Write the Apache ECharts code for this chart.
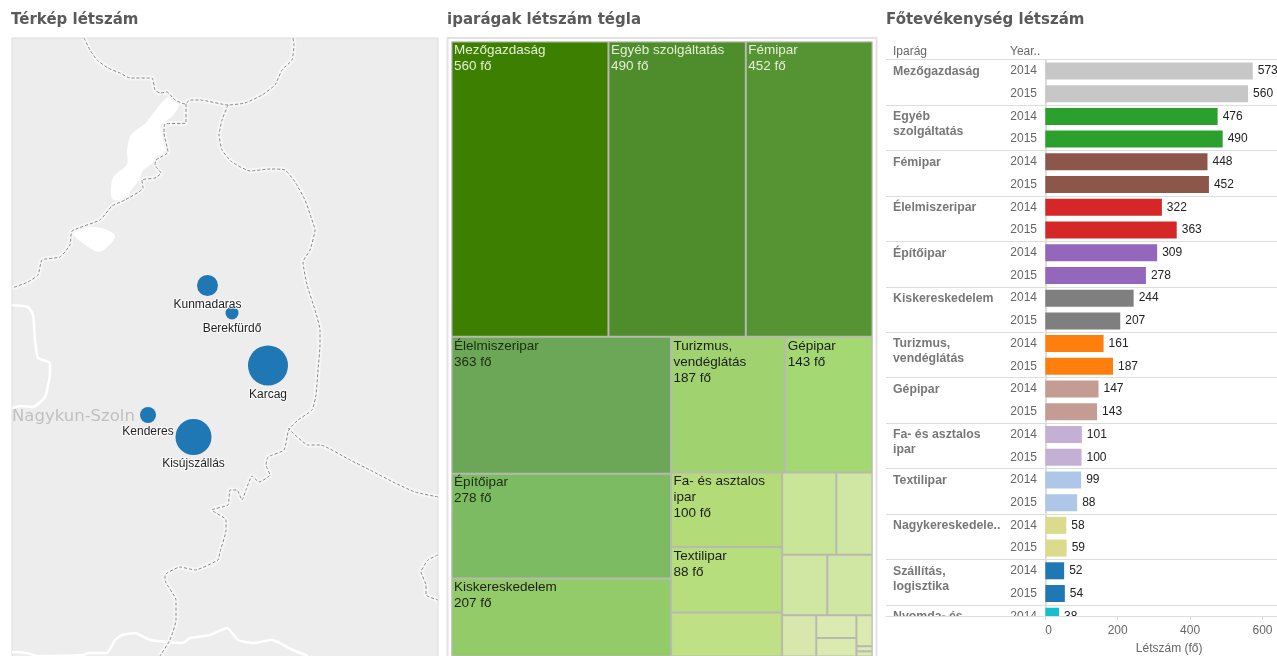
<!DOCTYPE html>
<html><head><meta charset="utf-8">
<style>html,body{margin:0;padding:0;background:#fff}#c{width:1277px;height:656px}</style>
<script src="https://cdn.jsdelivr.net/npm/echarts@6/dist/echarts.min.js"></script></head>
<body><div id="c"></div>
<script>
// ---- map panel data (axis units) ----
const cities = ['Kunmadaras','Berekfürdő','Karcag','Kenderes','Kisújszállás'];
const cityX = [207.5,232,268,148,193.5];
const cityY = [285.5,313,365.5,415,437];
const citySize = [21,13,40,16,36];
const borderA = [[84,38],[90,50],[97,60],[108,68],[120,73],[130,78],[152,78],[155,90],[160,93],[167,92],[175,100],[185,104],[190,100],[200,100],[228,105],[245,103],[262,95],[275,85],[282,70],[292,60],[294,45],[293,38]];
const borderB = [[186,104],[186,123],[165,124],[164,133],[168,152],[156,160],[155,165],[161,173],[155,178],[142,180],[143,188],[125,200],[112,206],[100,220],[72,231],[70,245],[60,257],[42,260],[38,275],[28,282],[12,288]];
const borderC = [[228,105],[222,120],[219,135],[222,150],[232,162],[250,171],[270,169],[285,170],[295,182],[305,200],[312,220],[315,230],[310,250],[303,262],[307,285],[315,310],[320,330],[320,345],[318,370],[316,395],[312,410],[298,420],[290,428],[288,432],[284,450],[268,457],[266,465],[270,475],[259,482],[252,476],[246,490],[242,500],[237,490],[230,490],[228,505],[212,510],[226,520],[226,530],[220,552],[218,560],[195,570],[180,567],[165,575],[165,580],[176,600],[176,620],[170,640],[160,656]];
const borderD = [[288,428],[308,445],[320,445],[350,460],[370,470],[395,483],[415,492],[438,497]];
const borderE = [[438,555],[428,560],[421,572],[426,585],[426,595],[438,600]];
const riverA = [[12,305],[28,307],[33,315],[35,340],[38,358],[50,363],[50,373],[45,397],[33,407],[20,406],[12,408]];
const riverB = [[12,652],[27,653],[37,656],[83,655],[88,653],[107,653],[115,640],[122,635],[135,633],[150,640],[167,642],[183,643],[190,638],[210,635],[227,628],[238,640],[253,643],[272,640],[293,650],[308,656]];
const lakeA = [[168,98],[178,104],[172,115],[160,125],[163,140],[165,148],[155,160],[142,170],[138,180],[130,190],[125,198],[113,198],[114,178],[128,165],[128,150],[132,135],[145,125]];
const lakeB = [[73,232],[96,228],[114,236],[102,250],[95,250]];
const regionLabel = 'Nagykun-Szoln';

// ---- treemap data ----
const treeNames = ['Mezőgazdaság','Egyéb szolgáltatás','Fémipar','Élelmiszeripar','Építőipar','Kiskereskedelem','Turizmus,\nvendéglátás','Gépipar','Fa- és asztalos\nipar','Textilipar','','','','','','','','','','',''];
const treeValues = [560,490,452,363,278,207,187,143,100,88,59,54,36,33,33,17,11,9,6,1,1];
const treeColors = ['#3d7f00','#4f8c2b','#569433','#6ca757','#7cbb62','#93cb68','#a0d370','#a4d873','#b3dc79','#b7de7d','#bfe085','#c8e598','#cfe7a2','#d0e7a4','#d0e7a4','#d8e8ad','#dbeab1','#dbeab1','#dbeab1','#dbeab1','#dbeab1'];

// ---- bar table data ----
const groups = ['Mezőgazdaság','Egyéb\nszolgáltatás','Fémipar','Élelmiszeripar','Építőipar','Kiskereskedelem','Turizmus,\nvendéglátás','Gépipar','Fa- és asztalos\nipar','Textilipar','Nagykereskedele..','Szállítás,\nlogisztika','Nyomda- és'];
const values2014 = [573,476,448,322,309,244,161,147,101,99,58,52,38];
const values2015 = [560,490,452,363,278,207,187,143,100,88,59,54];
const groupColors = ['#c7c7c7','#2ca02c','#8c564b','#d62728','#9467bd','#7f7f7f','#ff7f0e','#c49c94','#c5b0d5','#aec7e8','#dbdb8d','#1f77b4','#17becf'];
const years = ['2014','2015'];

const rowLabels = [], rowBars = [], groupMarks = [];
groups.forEach((g,i)=>{
  groupMarks.push({value:[0,rowLabels.length],label:{formatter:g}});
  rowLabels.push(years[0]);
  rowBars.push({value:values2014[i],itemStyle:{color:groupColors[i]}});
  if(i<values2015.length){
    rowLabels.push(years[1]);
    rowBars.push({value:values2015[i],itemStyle:{color:groupColors[i]}});
  }
});

const titleFont = 'DejaVu Sans';
const titleStyle = {fontFamily:titleFont,fontWeight:'bold',fontSize:15,color:'#5a5a5a'};
const bodyFont = 'Liberation Sans';
const borderSeries = (d)=>({type:'line',xAxisIndex:0,yAxisIndex:0,data:d,symbol:'none',silent:true,smooth:0.15,z:3,lineStyle:{color:'#888',width:1,type:[3,2]}});
const haloSeries = (d,w,c)=>({type:'line',xAxisIndex:0,yAxisIndex:0,data:d,symbol:'none',silent:true,smooth:0.15,z:2,lineStyle:{color:c||'#f6f6f6',width:w||5}});
const lakeSeries = (d)=>({type:'custom',xAxisIndex:0,yAxisIndex:0,silent:true,z:2,data:[0],
  renderItem:(p,api)=>({type:'polygon',shape:{points:d.map(q=>api.coord(q)),smooth:0.3},style:{fill:'#fff',stroke:'#fff',lineWidth:2}})});

const option = {
  animation:false,
  textStyle:{fontFamily:bodyFont},
  title:[
    {text:'Térkép létszám',left:11,top:13,textStyle:titleStyle,padding:0},
    {text:'iparágak létszám tégla',left:447,top:13,textStyle:titleStyle,padding:0},
    {text:'Főtevékenység létszám',left:886,top:13,textStyle:titleStyle,padding:0},
    {text:'Iparág',left:893,top:46,padding:0,textStyle:{fontFamily:bodyFont,fontWeight:'normal',fontSize:12,color:'#666'}},
    {text:'Year..',left:1010,top:46,padding:0,textStyle:{fontFamily:bodyFont,fontWeight:'normal',fontSize:12,color:'#666'}}
  ],
  grid:[
    {left:12,top:38,width:426,height:619,show:true,backgroundColor:'#ededed',borderColor:'#dcdcdc',borderWidth:1,outerBoundsMode:'none'},
    {left:1045.3,top:59.6,width:231.7,height:568,outerBoundsMode:'none'},
    {left:886,top:59.6,width:391,height:568,outerBoundsMode:'none'}
  ],
  xAxis:[
    {gridIndex:0,type:'value',min:12,max:438,show:false},
    {gridIndex:1,type:'value',min:0,max:640,interval:200,offset:-11.6,z:100,
     axisLine:{show:true,lineStyle:{color:'#ddd'}},axisTick:{show:true,length:4,lineStyle:{color:'#ddd'}},splitLine:{show:false},
     axisLabel:{color:'#666',fontSize:12,margin:9,showMaxLabel:false,alignMinLabel:'left'},
     name:'Létszám (fő)',nameLocation:'middle',nameGap:27,nameTextStyle:{color:'#666',fontSize:12,padding:[0,0,0,16]}},
    {gridIndex:2,type:'value',min:0,max:391,offset:-11.6,z:100,
     axisLine:{show:true,lineStyle:{color:'#ddd',width:1}},axisTick:{show:false},axisLabel:{show:false},splitLine:{show:false}}
  ],
  yAxis:[
    {gridIndex:0,type:'value',min:38,max:657,inverse:true,show:false},
    {gridIndex:1,type:'category',inverse:true,data:rowLabels,
     axisLine:{show:true,lineStyle:{color:'#ddd',width:2}},axisTick:{show:false},
     axisLabel:{color:'#666',fontSize:12,align:'left',margin:35,interval:0}},
    {gridIndex:2,type:'category',inverse:true,data:rowLabels,
     axisLine:{show:false},axisTick:{show:false},axisLabel:{show:false},
     splitLine:{show:true,interval:1,lineStyle:{color:'#ddd',width:1}}}
  ],
  graphic:[
    {type:'rect',z:50,silent:true,shape:{x:880,y:616,width:397,height:40},style:{fill:'#fff'}},
    {type:'rect',z:0,silent:true,shape:{x:447.5,y:38,width:429,height:620},style:{fill:'#fff',stroke:'#e2e2e2',lineWidth:2}}
  ],
  series:[
    lakeSeries(lakeA),lakeSeries(lakeB),
    haloSeries(riverA,2.5,'#fff'),haloSeries(riverB,2.5,'#fff'),
    haloSeries(borderA),haloSeries(borderB),haloSeries(borderC),haloSeries(borderD),haloSeries(borderE),
    borderSeries(borderA),borderSeries(borderB),borderSeries(borderC),borderSeries(borderD),borderSeries(borderE),
    {type:'scatter',xAxisIndex:0,yAxisIndex:0,z:4,silent:true,symbolSize:0,data:[[12,416.5]],
     label:{show:true,position:'right',distance:0,formatter:regionLabel,color:'#b4b4b4',fontFamily:'DejaVu Sans',fontSize:16.5}},
    {type:'scatter',name:'Város',xAxisIndex:0,yAxisIndex:0,z:5,
     data:cities.map((c,i)=>({name:c,value:[cityX[i],cityY[i],citySize[i]]})),
     symbolSize:v=>v[2],itemStyle:{color:'#1f77b4',opacity:1},
     label:{show:true,position:'bottom',distance:3,formatter:'{b}',color:'#222',fontSize:12,textBorderColor:'rgba(255,255,255,0.8)',textBorderWidth:2}},
    {type:'treemap',name:'iparágak',left:451.5,top:41.5,width:421,height:615,roam:false,nodeClick:false,sort:'desc',squareRatio:1.65,
     breadcrumb:{show:false},animation:false,
     itemStyle:{borderColor:'#b9b9b1',borderWidth:1,gapWidth:0},
     levels:[{itemStyle:{borderWidth:0,gapWidth:0}},{itemStyle:{borderWidth:1,borderColor:'#b9b9b1',gapWidth:0}}],
     label:{show:true,position:'insideTopLeft',distance:0,padding:[0,0,0,1.5],color:'#1c1c1c',fontSize:13.5,lineHeight:16,overflow:'none',
       formatter:p=>p.name+'\n'+p.value+' fő'},
     upperLabel:{show:false},
     data:treeValues.map((v,i)=>({name:treeNames[i],value:v,
       itemStyle:{color:treeColors[i]},
       label:treeNames[i]===''?{show:false}:{show:true,color:i<3?'#e4efd4':(i<5?'#1c2c10':'#1c1c1c')}}))},
    {type:'bar',name:'Létszám',xAxisIndex:1,yAxisIndex:1,barWidth:17,z:3,data:rowBars,
     label:{show:true,position:'right',distance:5,color:'#222',fontSize:12}},
    {type:'scatter',name:'Iparág',xAxisIndex:2,yAxisIndex:2,z:3,silent:true,symbolSize:0,data:groupMarks,
     label:{show:true,position:'inside',align:'left',verticalAlign:'top',offset:[7,-7],color:'#555',fontWeight:'bold',fontSize:12.3,lineHeight:15}}
  ]
};
const chart = echarts.init(document.getElementById('c'),null,{renderer:'canvas'});
chart.setOption(option);
</script></body></html>
